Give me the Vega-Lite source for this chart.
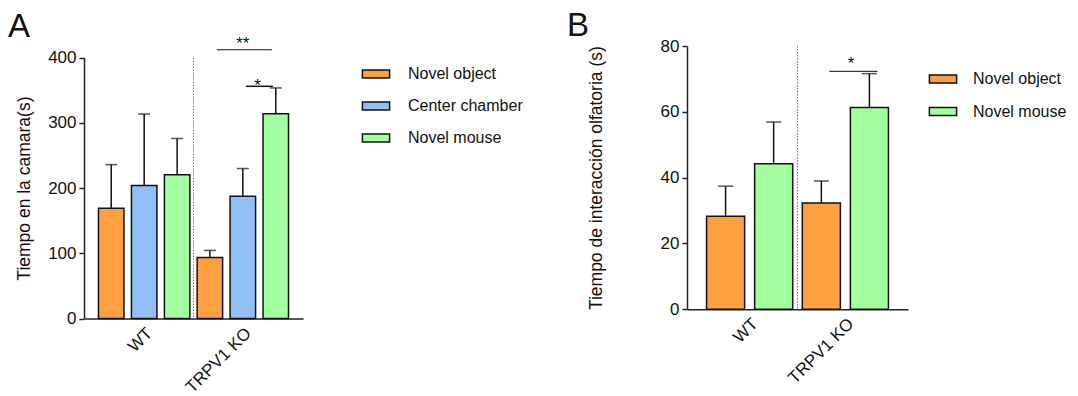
{
  "$schema": "https://vega.github.io/schema/vega-lite/v6.json",
  "padding": {"left": 8, "top": 10, "right": 0, "bottom": 0},
  "config": {
    "font": "Liberation Sans",
    "view": {"stroke": null},
    "axis": {
      "domainColor": "#222", "domainWidth": 1.5, "tickColor": "#222", "tickWidth": 1.5, "tickSize": 5,
      "labelFontSize": 17, "labelColor": "#111", "titleFontSize": 17.5, "titleFontWeight": "normal", "titleColor": "#111", "grid": false
    },
    "title": {"fontSize": 33, "fontWeight": "normal", "color": "#111", "anchor": "start", "frame": "group"}
  },
  "spacing": 44,
  "resolve": {"scale": {"x": "independent", "y": "independent", "xOffset": "independent", "color": "independent"}, "legend": {"color": "independent"}},
  "hconcat": [
    {
      "width": 219, "height": 272.6,
      "title": {"text": "A", "dx": -76, "offset": -9.5},
      "data": {"values": [
        {"group": "WT", "cond": "Novel object", "mean": 169, "upper": 236},
        {"group": "WT", "cond": "Center chamber", "mean": 204, "upper": 313.5},
        {"group": "WT", "cond": "Novel mouse", "mean": 220.5, "upper": 276},
        {"group": "TRPV1 KO", "cond": "Novel object", "mean": 93.5, "upper": 104.5},
        {"group": "TRPV1 KO", "cond": "Center chamber", "mean": 187.5, "upper": 230},
        {"group": "TRPV1 KO", "cond": "Novel mouse", "mean": 314, "upper": 353.5}
      ]},
      "layer": [
        {
          "mark": {"type": "bar", "stroke": "#111", "strokeWidth": 1.5},
          "encoding": {
            "x": {"field": "group", "type": "nominal", "scale": {"domain": ["WT", "TRPV1 KO"], "paddingInner": 0, "paddingOuter": 0.11},
                  "axis": {"title": null, "labelAngle": -45, "ticks": false, "labelPadding": 6}},
            "xOffset": {"field": "cond", "type": "nominal", "scale": {"domain": ["Novel object", "Center chamber", "Novel mouse"], "paddingInner": 0.227, "paddingOuter": 0.11}},
            "y": {"field": "mean", "type": "quantitative", "scale": {"domain": [0, 400], "nice": false, "range": [272.6, 11.6]},
                  "axis": {"title": "Tiempo en la camara(s)", "values": [0, 100, 200, 300, 400], "titlePadding": 14, "labelPadding": 3}},
            "color": {"field": "cond", "type": "nominal", "scale": {"domain": ["Novel object", "Center chamber", "Novel mouse"], "range": ["#FFA040", "#92BFF6", "#A3FE9F"]},
                      "legend": {"title": null, "orient": "none", "legendX": 283, "legendY": 19, "padding": 0,
                                 "symbolType": "M-1.7,-0.5H1.7V0.5H-1.7Z", "symbolSize": 256, "symbolStrokeColor": "#111", "symbolStrokeWidth": 1.5,
                                 "labelFontSize": 16, "labelColor": "#111", "labelOffset": 23, "rowPadding": 15}}
          }
        },
        {
          "mark": {"type": "rule", "color": "#111", "strokeWidth": 1.5},
          "encoding": {
            "x": {"field": "group", "type": "nominal"},
            "xOffset": {"field": "cond", "type": "nominal"},
            "y": {"field": "mean", "type": "quantitative"},
            "y2": {"field": "upper"}
          }
        },
        {
          "mark": {"type": "tick", "orient": "horizontal", "color": "#111", "size": 12, "thickness": 1.5},
          "encoding": {
            "x": {"field": "group", "type": "nominal"},
            "xOffset": {"field": "cond", "type": "nominal"},
            "y": {"field": "upper", "type": "quantitative"}
          }
        },
        {
          "data": {"values": [{"group": "TRPV1 KO", "top": 400, "bottom": 0}]},
          "mark": {"type": "rule", "color": "#777", "strokeWidth": 1, "strokeDash": [1.5, 1.5]},
          "encoding": {
            "x": {"field": "group", "type": "nominal", "bandPosition": 0},
            "y": {"field": "top", "type": "quantitative"},
            "y2": {"field": "bottom"}
          }
        },
        {
          "data": {"values": [{"group": "TRPV1 KO", "y": 412, "label": "**"}]},
          "layer": [
            {"mark": {"type": "rule", "color": "#111", "strokeWidth": 1},
             "encoding": {"x": {"field": "group", "type": "nominal", "bandPosition": 0.237}, "x2": {"field": "group", "bandPosition": 0.795}, "y": {"field": "y", "type": "quantitative"}}},
            {"mark": {"type": "text", "fontSize": 17, "baseline": "alphabetic", "dy": -1, "color": "#111"},
             "encoding": {"x": {"field": "group", "type": "nominal", "bandPosition": 0.5}, "y": {"field": "y", "type": "quantitative"}, "text": {"field": "label"}}}
          ]
        },
        {
          "data": {"values": [{"group": "TRPV1 KO", "y": 356, "label": "*"}]},
          "layer": [
            {"mark": {"type": "rule", "color": "#111", "strokeWidth": 1.5},
             "encoding": {"x": {"field": "group", "type": "nominal", "bandPosition": 0.531}, "x2": {"field": "group", "bandPosition": 0.805}, "y": {"field": "y", "type": "quantitative"}}},
            {"mark": {"type": "text", "fontSize": 17, "baseline": "alphabetic", "dy": 5, "color": "#111"},
             "encoding": {"x": {"field": "group", "type": "nominal", "bandPosition": 0.65}, "y": {"field": "y", "type": "quantitative"}, "text": {"field": "label"}}}
          ]
        }
      ]
    },
    {
      "width": 221, "height": 263.3,
      "title": {"text": "B", "dx": -120, "offset": -6.3},
      "data": {"values": [
        {"group": "WT", "cond": "Novel object", "mean": 28.3, "upper": 37.4},
        {"group": "WT", "cond": "Novel mouse", "mean": 44.2, "upper": 56.9},
        {"group": "TRPV1 KO", "cond": "Novel object", "mean": 32.3, "upper": 39.0},
        {"group": "TRPV1 KO", "cond": "Novel mouse", "mean": 61.3, "upper": 71.6}
      ]},
      "layer": [
        {
          "mark": {"type": "bar", "stroke": "#111", "strokeWidth": 1.5},
          "encoding": {
            "x": {"field": "group", "type": "nominal", "scale": {"domain": ["WT", "TRPV1 KO"], "paddingInner": 0, "paddingOuter": 0.154},
                  "axis": {"title": null, "labelAngle": -45, "ticks": false, "labelPadding": 6}},
            "xOffset": {"field": "cond", "type": "nominal", "scale": {"domain": ["Novel object", "Novel mouse"], "paddingInner": 0.208, "paddingOuter": 0.1}},
            "y": {"field": "mean", "type": "quantitative", "scale": {"domain": [0, 80], "nice": false},
                  "axis": {"title": "Tiempo de interacción olfatoria (s)", "values": [0, 20, 40, 60, 80], "titlePadding": 55, "labelPadding": 3}},
            "color": {"field": "cond", "type": "nominal", "scale": {"domain": ["Novel object", "Novel mouse"], "range": ["#FFA040", "#A3FE9F"]},
                      "legend": {"title": null, "orient": "none", "legendX": 247, "legendY": 24, "padding": 0,
                                 "symbolType": "M-1.7,-0.5H1.7V0.5H-1.7Z", "symbolSize": 256, "symbolStrokeColor": "#111", "symbolStrokeWidth": 1.5,
                                 "labelFontSize": 16, "labelColor": "#111", "labelOffset": 21, "rowPadding": 15.5}}
          }
        },
        {
          "mark": {"type": "rule", "color": "#111", "strokeWidth": 1.5},
          "encoding": {
            "x": {"field": "group", "type": "nominal"},
            "xOffset": {"field": "cond", "type": "nominal"},
            "y": {"field": "mean", "type": "quantitative"},
            "y2": {"field": "upper"}
          }
        },
        {
          "mark": {"type": "tick", "orient": "horizontal", "color": "#111", "size": 15, "thickness": 1.5},
          "encoding": {
            "x": {"field": "group", "type": "nominal"},
            "xOffset": {"field": "cond", "type": "nominal"},
            "y": {"field": "upper", "type": "quantitative"}
          }
        },
        {
          "data": {"values": [{"group": "TRPV1 KO", "top": 80, "bottom": 0}]},
          "mark": {"type": "rule", "color": "#777", "strokeWidth": 1, "strokeDash": [1.5, 1.5]},
          "encoding": {
            "x": {"field": "group", "type": "nominal", "bandPosition": 0},
            "y": {"field": "top", "type": "quantitative"},
            "y2": {"field": "bottom"}
          }
        },
        {
          "data": {"values": [{"group": "TRPV1 KO", "y": 72.3, "label": "*"}]},
          "layer": [
            {"mark": {"type": "rule", "color": "#111", "strokeWidth": 1},
             "encoding": {"x": {"field": "group", "type": "nominal", "bandPosition": 0.333}, "x2": {"field": "group", "bandPosition": 0.835}, "y": {"field": "y", "type": "quantitative"}}},
            {"mark": {"type": "text", "fontSize": 17, "baseline": "alphabetic", "dy": -2, "color": "#111"},
             "encoding": {"x": {"field": "group", "type": "nominal", "bandPosition": 0.56}, "y": {"field": "y", "type": "quantitative"}, "text": {"field": "label"}}}
          ]
        }
      ]
    }
  ]
}
